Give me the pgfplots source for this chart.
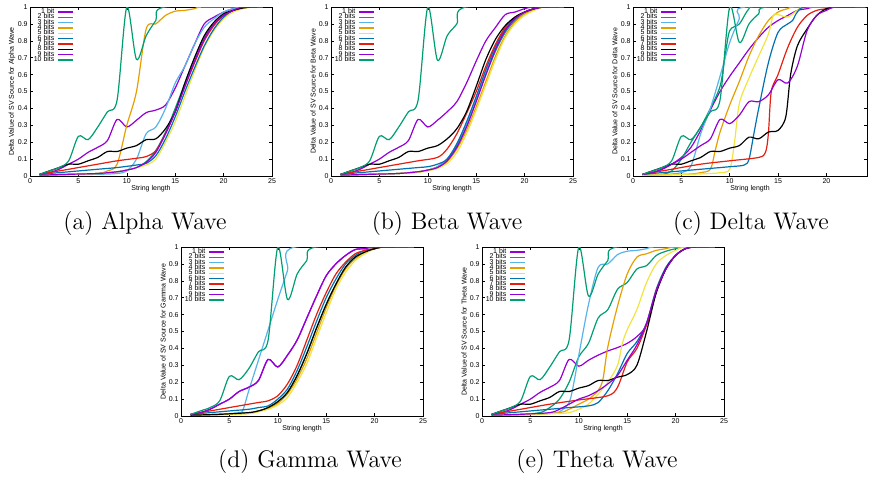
\documentclass[border=0pt]{standalone}
\usepackage{pgfplots}
\pgfplotsset{compat=1.18}
\usepackage{fontspec}
\newfontfamily\hv{Liberation Sans}
\definecolor{c1}{RGB}{148,0,211}
\definecolor{c2}{RGB}{0,158,115}
\definecolor{c3}{RGB}{86,180,233}
\definecolor{c4}{RGB}{230,159,0}
\definecolor{c5}{RGB}{240,228,66}
\definecolor{c6}{RGB}{0,114,178}
\definecolor{c7}{RGB}{229,30,16}
\definecolor{c8}{RGB}{0,0,0}
\pgfplotsset{
  wave/.style={
    scale only axis, width=121pt, height=84.5pt,
    xmin=0, xmax=25, ymin=0, ymax=1,
    xtick={0,5,10,15,20,25},
    ytick={0,0.1,0.2,0.3,0.4,0.5,0.6,0.7,0.8,0.9,1},
    yticklabels={0,0.1,0.2,0.3,0.4,0.5,0.6,0.7,0.8,0.9,1},
    /pgf/number format/assume math mode=true,
    tick label style={font=\hv\fontsize{3.5}{4}\selectfont, inner sep=1pt},
    label style={font=\hv\fontsize{3.5}{4}\selectfont},
    major tick length=1.5pt,
    tick style={black, line width=0.3pt},
    axis line style={line width=0.5pt},
    xlabel={String length},
    xlabel style={at={(axis description cs:0.5,-0.077)}, anchor=center},
    ylabel style={at={(axis description cs:-0.074,0.5)}, anchor=center},
    legend plot pos=right,
    legend cell align=right,
    legend image code/.code={\draw[#1] (0pt,0pt) -- (7.5pt,0pt);},
    legend style={at={(axis cs:4.55,0.988)}, anchor=north east, draw=none, fill=none,
      font=\hv\fontsize{3.5}{4}\selectfont, inner sep=0pt, row sep=0.17pt, column sep=1.5pt,
      nodes={inner sep=0pt, text height=2pt, text depth=0.5pt}},
    every axis plot/.append style={line width=0.6pt, smooth, no markers},
  }
}
\begin{document}
\begin{tikzpicture}
\path[use as bounding box] (0,0) rectangle (436pt,239.5pt);
% (a) Alpha
\begin{axis}[wave, at={(15pt,151.5pt)}, anchor=south west, ylabel={Delta Value of SV Source for Alpha Wave}]
\addplot[c1] coordinates {(1,0.01)(2,0.02)(3,0.04)(4,0.07)(5,0.1)(6,0.14)(7,0.17)(8,0.21)(9,0.335)(10,0.29)(11,0.33)(12,0.375)(13,0.39)(14,0.42)(15,0.52)(16,0.65)(17,0.78)(18,0.9)(19,0.94)(20,0.97)(21,0.99)(22,1)(24,1)};
\addplot[c2] coordinates {(1,0.005)(4,0.01)(7,0.015)(9,0.025)(10,0.035)(11,0.05)(12,0.085)(13,0.15)(14,0.26)(15,0.4)(16,0.55)(17,0.7)(18,0.82)(19,0.9)(20,0.95)(21,0.98)(22,0.995)(23,1)(24,1)};
\addplot[c3] coordinates {(1,0.005)(4,0.008)(7,0.01)(9,0.015)(10,0.03)(11,0.1)(12,0.25)(13,0.29)(14,0.4)(15,0.55)(16,0.65)(17,0.78)(18,0.88)(19,0.93)(20,0.97)(21,0.99)(22,1)(24,1)};
\addplot[c4] coordinates {(1,0.005)(4,0.01)(7,0.015)(8,0.03)(9,0.07)(10,0.3)(11,0.5)(12,0.87)(13,0.9)(14,0.95)(15,0.975)(16,0.98)(17,0.99)(18,1)(24,1)};
\addplot[c5] coordinates {(1,0.005)(4,0.01)(7,0.015)(9,0.025)(10,0.035)(11,0.05)(12,0.065)(13,0.1)(14,0.2)(15,0.32)(16,0.47)(17,0.62)(18,0.76)(19,0.86)(20,0.93)(21,0.97)(22,0.99)(23,1)(24,1)};
\addplot[c6] coordinates {(1,0.01)(3,0.02)(5,0.03)(7,0.04)(9,0.05)(11,0.065)(12,0.075)(13,0.12)(14,0.22)(15,0.35)(16,0.5)(17,0.64)(18,0.77)(19,0.87)(20,0.94)(21,0.98)(22,0.995)(23,1)(24,1)};
\addplot[c7] coordinates {(1,0.01)(3,0.03)(5,0.05)(7,0.07)(9,0.09)(11,0.105)(12,0.115)(13,0.15)(14,0.25)(15,0.38)(16,0.53)(17,0.67)(18,0.8)(19,0.89)(20,0.95)(21,0.98)(22,0.995)(23,1)(24,1)};
\addplot[c8] coordinates {(1,0.01)(2,0.03)(3,0.05)(4,0.07)(5,0.07)(6,0.09)(7,0.11)(8,0.145)(9,0.145)(10,0.165)(11,0.18)(12,0.215)(13,0.22)(14,0.28)(15,0.38)(16,0.55)(17,0.7)(18,0.83)(19,0.91)(20,0.96)(21,0.98)(22,0.995)(23,1)(24,1)};
\addplot[c1] coordinates {(1,0.005)(4,0.01)(7,0.015)(9,0.025)(10,0.035)(11,0.05)(12,0.08)(13,0.14)(14,0.25)(15,0.38)(16,0.53)(17,0.68)(18,0.81)(19,0.9)(20,0.95)(21,0.98)(22,1)(24,1)};
\addplot[c2] coordinates {(1,0.01)(2,0.03)(3,0.05)(4,0.09)(5,0.235)(6,0.215)(7,0.29)(8,0.38)(9,0.45)(10,1)(11,0.69)(12,0.83)(13,0.92)(14,1)(24,1)};
\legend{1 bit,2 bits,3 bits,4 bits,5 bits,6 bits,7 bits,8 bits,9 bits,10 bits}
\end{axis}
% (b) Beta
\begin{axis}[wave, at={(165.5pt,151.5pt)}, anchor=south west, ylabel={Delta Value of SV Source for Beta Wave}]
\addplot[c1] coordinates {(1,0.01)(2,0.02)(3,0.04)(4,0.07)(5,0.1)(6,0.14)(7,0.17)(8,0.21)(9,0.335)(10,0.29)(11,0.33)(12,0.38)(13,0.44)(14,0.55)(15,0.68)(16,0.8)(17,0.88)(18,0.955)(19,0.97)(20,0.99)(21,1)(24,1)};
\addplot[c2] coordinates {(1,0.005)(4,0.01)(7,0.015)(9,0.025)(10,0.035)(11,0.055)(12,0.1)(13,0.18)(14,0.3)(15,0.45)(16,0.6)(17,0.74)(18,0.85)(19,0.92)(20,0.96)(21,0.985)(22,1)(24,1)};
\addplot[c3] coordinates {(1,0.005)(4,0.01)(7,0.015)(9,0.025)(10,0.035)(11,0.055)(12,0.1)(13,0.19)(14,0.31)(15,0.46)(16,0.62)(17,0.76)(18,0.86)(19,0.93)(20,0.97)(21,0.99)(22,1)(24,1)};
\addplot[c4] coordinates {(1,0.005)(4,0.01)(7,0.015)(9,0.025)(10,0.035)(11,0.05)(12,0.085)(13,0.16)(14,0.27)(15,0.41)(16,0.56)(17,0.71)(18,0.83)(19,0.91)(20,0.96)(21,0.985)(22,1)(24,1)};
\addplot[c5] coordinates {(1,0.005)(4,0.01)(7,0.015)(9,0.022)(10,0.03)(11,0.045)(12,0.075)(13,0.14)(14,0.25)(15,0.39)(16,0.54)(17,0.69)(18,0.82)(19,0.9)(20,0.95)(21,0.98)(22,1)(24,1)};
\addplot[c6] coordinates {(1,0.01)(3,0.02)(5,0.03)(7,0.04)(9,0.05)(10,0.055)(11,0.07)(12,0.1)(13,0.19)(14,0.32)(15,0.47)(16,0.63)(17,0.77)(18,0.87)(19,0.93)(20,0.97)(21,0.99)(22,1)(24,1)};
\addplot[c7] coordinates {(1,0.01)(3,0.03)(5,0.05)(7,0.07)(9,0.09)(11,0.11)(12,0.16)(13,0.25)(14,0.37)(15,0.5)(16,0.65)(17,0.78)(18,0.88)(19,0.94)(20,0.97)(21,0.99)(22,1)(24,1)};
\addplot[c8] coordinates {(1,0.01)(2,0.03)(3,0.05)(4,0.07)(5,0.07)(6,0.09)(7,0.11)(8,0.145)(9,0.145)(10,0.165)(11,0.18)(12,0.22)(13,0.28)(14,0.38)(15,0.53)(16,0.69)(17,0.81)(18,0.89)(19,0.94)(20,0.97)(21,0.99)(22,1)(24,1)};
\addplot[c1] coordinates {(1,0.005)(4,0.01)(7,0.015)(9,0.025)(10,0.035)(11,0.05)(12,0.09)(13,0.17)(14,0.29)(15,0.44)(16,0.6)(17,0.75)(18,0.86)(19,0.93)(20,0.97)(21,0.99)(22,1)(24,1)};
\addplot[c2] coordinates {(1,0.01)(2,0.03)(3,0.05)(4,0.09)(5,0.235)(6,0.215)(7,0.29)(8,0.38)(9,0.45)(10,1)(11,0.685)(12,0.83)(13,0.9)(14,1)(24,1)};
\legend{1 bit,2 bits,3 bits,4 bits,5 bits,6 bits,7 bits,8 bits,9 bits,10 bits}
\end{axis}
% (c) Delta
\begin{axis}[wave, at={(316.5pt,151.5pt)}, anchor=south west, width=117pt, xmax=24.2, xtick={0,5,10,15,20}, ylabel style={at={(axis description cs:-0.077,0.5)}}, ylabel={Delta Value of SV Source for Delta Wave}]
\addplot[c1] coordinates {(1,0.01)(2,0.02)(3,0.04)(4,0.07)(5,0.11)(6,0.17)(7,0.27)(8,0.39)(9,0.5)(10,0.59)(11,0.67)(12,0.75)(13,0.82)(14,0.88)(15,0.92)(16,0.95)(17,0.98)(18,0.99)(19,1)(24,1)};
\addplot[c2] coordinates {(1,0.005)(3,0.01)(4,0.03)(5,0.1)(6,0.2)(7,0.29)(8,0.4)(9,0.53)(9.5,0.7)(10,0.86)(11,0.9)(12,0.99)(13,1)(24,1)};
\addplot[c3] coordinates {(1,0.005)(3,0.008)(5,0.02)(6,0.06)(7,0.25)(8,0.4)(9,0.59)(10,0.79)(11,0.93)(11.7,1)(24,1)};
\addplot[c4] coordinates {(1,0.005)(4,0.008)(6,0.012)(7,0.02)(8,0.04)(8.5,0.15)(9,0.26)(10,0.42)(11,0.56)(12,0.71)(13,0.83)(14,0.92)(15,0.97)(16,0.99)(17,1)(24,1)};
\addplot[c5] coordinates {(1,0.005)(5,0.008)(8,0.015)(9,0.02)(10,0.04)(10.5,0.2)(11,0.43)(12,0.58)(13,0.71)(14,0.84)(14.5,0.95)(15,0.955)(16,0.94)(17,0.98)(18,1)(24,1)};
\addplot[c6] coordinates {(1,0.01)(4,0.025)(7,0.04)(10,0.055)(11.5,0.065)(12,0.1)(12.5,0.25)(13,0.4)(14,0.67)(15,0.85)(16,0.9)(16.5,0.92)(17,0.97)(18,1)(24,1)};
\addplot[c7] coordinates {(1,0.01)(4,0.04)(7,0.07)(10,0.09)(13,0.11)(13.7,0.14)(14,0.25)(14.3,0.5)(15,0.6)(16,0.76)(17,0.88)(18,0.95)(19,0.98)(20,0.99)(21,1)(24,1)};
\addplot[c8] coordinates {(1,0.01)(2,0.03)(3,0.05)(4,0.07)(5,0.07)(6,0.09)(7,0.11)(8,0.145)(9,0.145)(10,0.165)(11,0.18)(12,0.23)(13,0.22)(14,0.26)(15,0.27)(15.8,0.35)(16.3,0.6)(17,0.77)(18,0.87)(19,0.95)(20,0.99)(21,1)(24,1)};
\addplot[c1] coordinates {(1,0.01)(2,0.02)(3,0.04)(4,0.07)(5,0.1)(6,0.14)(7,0.18)(8,0.22)(9,0.335)(10,0.31)(11,0.36)(12,0.44)(13,0.44)(14,0.48)(15,0.57)(16,0.55)(17,0.65)(18,0.86)(19,0.95)(20,0.98)(21,1)(24,1)};
\addplot[c2] coordinates {(1,0.01)(2,0.03)(3,0.05)(4,0.09)(5,0.235)(6,0.215)(7,0.29)(8,0.38)(9,0.45)(10,1)(11,0.79)(12,0.9)(13,0.96)(14,1)(24,1)};
\legend{1 bit,2 bits,3 bits,4 bits,5 bits,6 bits,7 bits,8 bits,9 bits,10 bits}
\end{axis}
% (d) Gamma
\begin{axis}[wave, at={(90.5pt,31.5pt)}, anchor=south west, ylabel={Delta Value of SV Source for Gamma Wave}]
\addplot[c1] coordinates {(1,0.01)(2,0.02)(3,0.04)(4,0.07)(5,0.1)(6,0.145)(7,0.17)(8,0.21)(9,0.335)(10,0.29)(11,0.36)(12,0.45)(13,0.58)(14,0.71)(15,0.83)(16,0.9)(17,0.95)(18,0.985)(19,0.99)(20,1)(24,1)};
\addplot[c2] coordinates {(1,0.005)(4,0.01)(7,0.02)(8,0.03)(9,0.05)(10,0.085)(11,0.14)(12,0.24)(13,0.37)(14,0.52)(15,0.66)(16,0.78)(17,0.88)(18,0.94)(19,0.97)(20,0.99)(21,1)(24,1)};
\addplot[c3] coordinates {(1,0.005)(4,0.01)(6,0.02)(6.4,0.035)(7,0.15)(8,0.33)(9,0.51)(10,0.69)(11,0.86)(11.8,1)(24,1)};
\addplot[c4] coordinates {(1,0.005)(4,0.008)(7,0.015)(8,0.03)(9,0.045)(10,0.075)(11,0.13)(12,0.22)(13,0.34)(14,0.49)(15,0.64)(16,0.77)(17,0.87)(18,0.93)(19,0.97)(20,0.99)(21,1)(24,1)};
\addplot[c5] coordinates {(1,0.005)(4,0.008)(7,0.015)(8,0.025)(9,0.04)(10,0.065)(11,0.11)(12,0.2)(13,0.31)(14,0.46)(15,0.61)(16,0.75)(17,0.85)(18,0.92)(19,0.96)(20,0.99)(21,1)(24,1)};
\addplot[c6] coordinates {(1,0.01)(3,0.02)(5,0.03)(7,0.04)(8,0.05)(9,0.06)(10,0.1)(11,0.16)(12,0.27)(13,0.41)(14,0.56)(15,0.7)(16,0.81)(17,0.9)(18,0.95)(19,0.98)(20,0.99)(21,1)(24,1)};
\addplot[c7] coordinates {(1,0.01)(3,0.03)(5,0.05)(7,0.07)(8,0.08)(9,0.09)(10,0.12)(11,0.19)(12,0.3)(13,0.45)(14,0.6)(15,0.73)(16,0.84)(17,0.91)(18,0.96)(19,0.98)(20,0.99)(21,1)(24,1)};
\addplot[c8] coordinates {(1,0.005)(4,0.01)(7,0.02)(8,0.03)(9,0.05)(10,0.085)(11,0.14)(12,0.24)(13,0.37)(14,0.52)(15,0.66)(16,0.78)(17,0.88)(18,0.94)(19,0.97)(20,0.99)(21,1)(24,1)};
\addplot[c1] coordinates {(1,0.01)(2,0.02)(3,0.04)(4,0.07)(5,0.1)(6,0.145)(7,0.17)(8,0.21)(9,0.335)(10,0.29)(11,0.36)(12,0.45)(13,0.58)(14,0.71)(15,0.83)(16,0.9)(17,0.95)(18,0.985)(19,0.99)(20,1)(24,1)};
\addplot[c2] coordinates {(1,0.01)(2,0.03)(3,0.05)(4,0.09)(5,0.235)(6,0.215)(7,0.28)(8,0.38)(9,0.45)(10,1)(11,0.69)(12,0.84)(13,0.92)(14,1)(24,1)};
\legend{1 bit,2 bits,3 bits,4 bits,5 bits,6 bits,7 bits,8 bits,9 bits,10 bits}
\end{axis}
% (e) Theta
\begin{axis}[wave, at={(241pt,31.5pt)}, anchor=south west, ylabel={Delta Value of SV Source for Theta Wave}]
\addplot[c1] coordinates {(1,0.01)(2,0.02)(3,0.04)(4,0.07)(5,0.1)(6,0.14)(7,0.17)(8,0.21)(9,0.335)(10,0.295)(11,0.33)(12,0.36)(13,0.385)(14,0.405)(15,0.43)(16,0.47)(17,0.54)(18,0.73)(19,0.87)(20,0.95)(21,0.99)(22,1)(24,1)};
\addplot[c2] coordinates {(1,0.005)(4,0.01)(6,0.02)(7,0.05)(8,0.1)(9,0.2)(10,0.35)(11,0.43)(12,0.58)(13,0.63)(14,0.75)(15,0.79)(16,0.87)(17,0.89)(18,0.95)(19,0.975)(20,0.99)(21,1)(24,1)};
\addplot[c3] coordinates {(1,0.005)(5,0.008)(7,0.015)(8,0.025)(9,0.08)(9.5,0.2)(10,0.36)(11,0.66)(12,0.88)(13,0.9)(14,0.955)(15,0.975)(16,0.98)(17,0.99)(18,1)(24,1)};
\addplot[c4] coordinates {(1,0.005)(5,0.01)(8,0.02)(9,0.04)(10,0.07)(11,0.1)(12,0.15)(12.5,0.22)(13,0.41)(14,0.65)(15,0.84)(16,0.94)(17,0.96)(18,0.98)(19,0.99)(20,1)(24,1)};
\addplot[c5] coordinates {(1,0.005)(5,0.01)(8,0.015)(9,0.02)(10,0.04)(11,0.07)(12,0.13)(13,0.2)(14,0.3)(14.5,0.43)(15,0.51)(16,0.63)(17,0.79)(18,0.9)(19,0.95)(20,0.98)(21,1)(24,1)};
\addplot[c6] coordinates {(1,0.01)(3,0.02)(5,0.03)(7,0.04)(9,0.05)(11,0.06)(12,0.08)(13,0.15)(14,0.25)(15,0.37)(16,0.44)(17,0.55)(18,0.75)(19,0.88)(20,0.95)(21,0.99)(22,1)(24,1)};
\addplot[c7] coordinates {(1,0.01)(4,0.04)(7,0.07)(10,0.095)(13,0.12)(14,0.17)(15,0.32)(16,0.4)(17,0.54)(18,0.74)(19,0.87)(20,0.95)(21,0.99)(22,1)(24,1)};
\addplot[c8] coordinates {(1,0.01)(2,0.03)(3,0.05)(4,0.07)(5,0.07)(6,0.09)(7,0.11)(8,0.145)(9,0.145)(10,0.165)(11,0.18)(12,0.21)(13,0.21)(14,0.23)(15,0.245)(16,0.3)(17,0.5)(18,0.73)(19,0.87)(20,0.95)(21,0.99)(22,1)(24,1)};
\addplot[c1] coordinates {(1,0.005)(4,0.01)(7,0.02)(8,0.04)(9,0.07)(10,0.1)(11,0.12)(12,0.15)(13,0.19)(14,0.24)(15,0.33)(16,0.42)(17,0.55)(18,0.74)(19,0.87)(20,0.95)(21,0.99)(22,1)(24,1)};
\addplot[c2] coordinates {(1,0.01)(2,0.03)(3,0.05)(4,0.09)(5,0.235)(6,0.215)(7,0.29)(8,0.38)(9,0.45)(10,1)(11,0.71)(12,0.84)(13,0.92)(14,1)(24,1)};
\legend{1 bit,2 bits,3 bits,4 bits,5 bits,6 bits,7 bits,8 bits,9 bits,10 bits}
\end{axis}
\node[font=\fontsize{12}{14}\selectfont, anchor=center] at (72.5pt,127.5pt) {(a) Alpha Wave};
\node[font=\fontsize{12}{14}\selectfont, anchor=center] at (223.5pt,127.5pt) {(b) Beta Wave};
\node[font=\fontsize{12}{14}\selectfont, anchor=center] at (375.5pt,127.5pt) {(c) Delta Wave};
\node[font=\fontsize{12}{14}\selectfont, anchor=center] at (155pt,8.5pt) {(d) Gamma Wave};
\node[font=\fontsize{12}{14}\selectfont, anchor=center] at (298.5pt,8.5pt) {(e) Theta Wave};
\end{tikzpicture}
\end{document}
